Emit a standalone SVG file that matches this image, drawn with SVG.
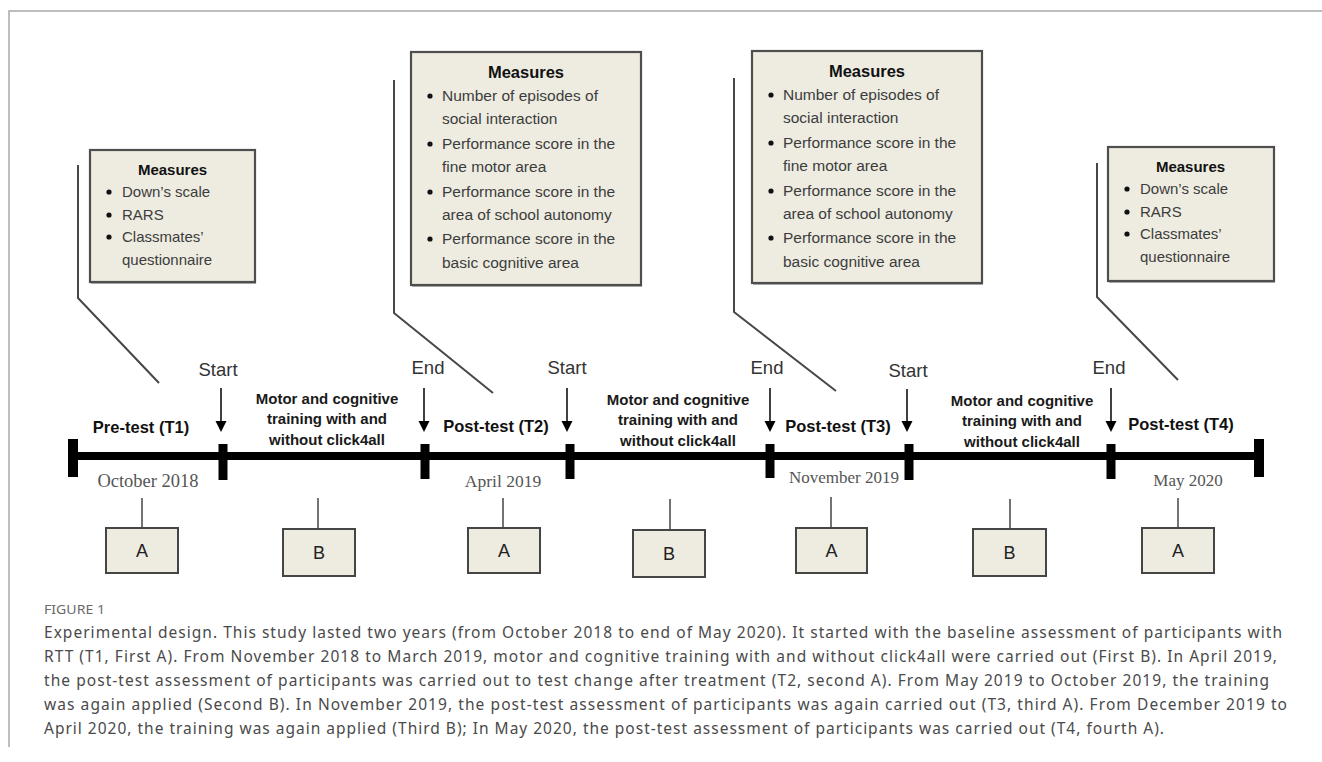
<svg xmlns="http://www.w3.org/2000/svg" width="1322" height="762" viewBox="0 0 1322 762">
<defs>
<marker id="ah" markerWidth="12" markerHeight="12" refX="0" refY="5.5" orient="auto" markerUnits="userSpaceOnUse">
<path d="M0,0 L11,5.5 L0,11 Z" fill="#000"/>
</marker>
</defs>
<style>
.frame{stroke:#a8a8a8;stroke-width:1.5;fill:none}
.mbox{fill:#eeece1;stroke:#4e4e4e;stroke-width:2.2}
.shd{fill:#b0b0b0}
.title{font-family:"Liberation Sans",Arial,sans-serif;font-weight:bold;fill:#111;text-anchor:middle}
.item{font-family:"Liberation Sans",Arial,sans-serif;fill:#3c3c3c}
.bul{fill:#111}
.conn{stroke:#474747;stroke-width:2;fill:none;stroke-linejoin:round}
.bar{stroke:#000;stroke-width:8}
.tick{fill:#000}
.arrow{stroke:#111;stroke-width:1.6}
.lbl{font-family:"Liberation Sans",Arial,sans-serif;font-size:18.5px;fill:#333;text-anchor:middle}
.phase{font-family:"Liberation Sans",Arial,sans-serif;font-weight:bold;font-size:16.5px;fill:#111;text-anchor:middle}
.motor{font-family:"Liberation Sans",Arial,sans-serif;font-weight:bold;font-size:15px;fill:#1a1a1a;text-anchor:middle}
.date{font-family:"Liberation Serif","Times New Roman",serif;fill:#555;text-anchor:middle}
.ab{fill:#eeece1;stroke:#454545;stroke-width:2}
.abt{font-family:"Liberation Sans",Arial,sans-serif;font-size:18px;fill:#222;text-anchor:middle}
.stem{stroke:#444;stroke-width:1.5}
.cap{font-family:"Noto Sans","Open Sans",sans-serif;font-size:15.5px;fill:#4a4a4a}
.fig{font-family:"Noto Sans","Open Sans",sans-serif;font-size:13px;fill:#6a6a6a}
</style>
<rect width="1322" height="762" fill="#fff"/>
<path class="frame" d="M1322,11 H9 V747"/>

<g id="connectors">
<polyline class="conn" points="78,165 78,298 159,383"/>
<polyline class="conn" points="394,80 394,313 493,393"/>
<polyline class="conn" points="734,78 734,312 836,391"/>
<polyline class="conn" points="1097,163 1097,297 1178,380"/>
</g>

<g id="measures-t1">
<rect class="shd" x="91" y="152" width="165" height="132"/>
<rect class="mbox" x="90" y="150" width="165" height="132"/>
<text class="title" x="172.5" y="175" font-size="15">Measures</text>
<g class="item" font-size="15">
<text x="122" y="197">Down’s scale</text>
<text x="122" y="220">RARS</text>
<text x="122" y="242">Classmates’</text>
<text x="122" y="265">questionnaire</text>
</g>
<circle class="bul" cx="109" cy="192" r="2.6"/>
<circle class="bul" cx="109" cy="215" r="2.6"/>
<circle class="bul" cx="109" cy="237" r="2.6"/>
</g>

<g id="measures-t2">
<rect class="shd" x="412" y="54" width="230" height="233"/>
<rect class="mbox" x="411" y="52" width="230" height="233"/>
<text class="title" x="526" y="78" font-size="16.5">Measures</text>
<g class="item" font-size="15.5">
<text x="442" y="101">Number of episodes of</text>
<text x="442" y="124">social interaction</text>
<text x="442" y="149">Performance score in the</text>
<text x="442" y="172">fine motor area</text>
<text x="442" y="197">Performance score in the</text>
<text x="442" y="220">area of school autonomy</text>
<text x="442" y="244">Performance score in the</text>
<text x="442" y="268">basic cognitive area</text>
</g>
<circle class="bul" cx="430" cy="96" r="2.6"/>
<circle class="bul" cx="430" cy="144" r="2.6"/>
<circle class="bul" cx="430" cy="192" r="2.6"/>
<circle class="bul" cx="430" cy="239" r="2.6"/>
</g>

<g id="measures-t3">
<rect class="shd" x="753" y="53" width="230" height="232"/>
<rect class="mbox" x="752" y="51" width="230" height="232"/>
<text class="title" x="867" y="77" font-size="16.5">Measures</text>
<g class="item" font-size="15.5">
<text x="783" y="100">Number of episodes of</text>
<text x="783" y="123">social interaction</text>
<text x="783" y="148">Performance score in the</text>
<text x="783" y="171">fine motor area</text>
<text x="783" y="196">Performance score in the</text>
<text x="783" y="219">area of school autonomy</text>
<text x="783" y="243">Performance score in the</text>
<text x="783" y="267">basic cognitive area</text>
</g>
<circle class="bul" cx="771" cy="95" r="2.6"/>
<circle class="bul" cx="771" cy="143" r="2.6"/>
<circle class="bul" cx="771" cy="191" r="2.6"/>
<circle class="bul" cx="771" cy="238" r="2.6"/>
</g>

<g id="measures-t4">
<rect class="shd" x="1109" y="149" width="166" height="134"/>
<rect class="mbox" x="1108" y="147" width="166" height="134"/>
<text class="title" x="1190.5" y="172" font-size="15">Measures</text>
<g class="item" font-size="15">
<text x="1140" y="194">Down’s scale</text>
<text x="1140" y="217">RARS</text>
<text x="1140" y="239">Classmates’</text>
<text x="1140" y="262">questionnaire</text>
</g>
<circle class="bul" cx="1127" cy="189" r="2.6"/>
<circle class="bul" cx="1127" cy="212" r="2.6"/>
<circle class="bul" cx="1127" cy="234" r="2.6"/>
</g>

<g id="timeline">
<line class="bar" x1="73" y1="456" x2="1259" y2="456"/>
<rect class="tick" x="68" y="439" width="10" height="38"/>
<rect class="tick" x="1254" y="439" width="10" height="38"/>
<rect class="tick" x="218.5" y="444" width="9" height="36"/>
<rect class="tick" x="420.5" y="444" width="9" height="35"/>
<rect class="tick" x="565.5" y="444" width="9" height="35"/>
<rect class="tick" x="765.5" y="444" width="9" height="34"/>
<rect class="tick" x="904.5" y="444" width="9" height="36"/>
<rect class="tick" x="1106.5" y="444" width="9" height="35"/>
</g>

<g id="markers">
<text class="lbl" x="218" y="376">Start</text>
<line class="arrow" x1="221" y1="388" x2="221" y2="421" marker-end="url(#ah)"/>
<text class="lbl" x="428" y="374">End</text>
<line class="arrow" x1="424" y1="388" x2="424" y2="421" marker-end="url(#ah)"/>
<text class="lbl" x="567" y="374">Start</text>
<line class="arrow" x1="567" y1="388" x2="567" y2="421" marker-end="url(#ah)"/>
<text class="lbl" x="767" y="374">End</text>
<line class="arrow" x1="770" y1="388" x2="770" y2="421" marker-end="url(#ah)"/>
<text class="lbl" x="908" y="377">Start</text>
<line class="arrow" x1="907" y1="389" x2="907" y2="421" marker-end="url(#ah)"/>
<text class="lbl" x="1109" y="374">End</text>
<line class="arrow" x1="1111" y1="388" x2="1111" y2="421" marker-end="url(#ah)"/>
</g>

<g id="phases">
<text class="phase" x="141" y="433">Pre-test (T1)</text>
<text class="phase" x="496" y="432">Post-test (T2)</text>
<text class="phase" x="838" y="432">Post-test (T3)</text>
<text class="phase" x="1181" y="430">Post-test (T4)</text>
</g>

<g id="training-1">
<text class="motor" x="327" y="404">Motor and cognitive</text>
<text class="motor" x="327" y="424">training with and</text>
<text class="motor" x="327" y="445">without click4all</text>
</g>
<g id="training-2">
<text class="motor" x="678" y="405">Motor and cognitive</text>
<text class="motor" x="678" y="425">training with and</text>
<text class="motor" x="678" y="446">without click4all</text>
</g>
<g id="training-3">
<text class="motor" x="1022" y="406">Motor and cognitive</text>
<text class="motor" x="1022" y="426">training with and</text>
<text class="motor" x="1022" y="447">without click4all</text>
</g>

<g id="dates">
<text class="date" x="148" y="487" font-size="18.5">October 2018</text>
<text class="date" x="503" y="487" font-size="17.5">April  2019</text>
<text class="date" x="844" y="483" font-size="17">November 2019</text>
<text class="date" x="1188" y="486" font-size="17">May 2020</text>
</g>

<g id="stems">
<line class="stem" x1="142" y1="498" x2="142" y2="528"/>
<line class="stem" x1="318" y1="498" x2="318" y2="529"/>
<line class="stem" x1="503" y1="498" x2="503" y2="528"/>
<line class="stem" x1="670" y1="499" x2="670" y2="530"/>
<line class="stem" x1="831" y1="497" x2="831" y2="528"/>
<line class="stem" x1="1010" y1="499" x2="1010" y2="529"/>
<line class="stem" x1="1178" y1="498" x2="1178" y2="528"/>
</g>

<g id="phase-A1"><rect class="ab" x="106" y="528" width="72" height="45"/><text class="abt" x="142" y="557">A</text></g>
<g id="phase-B1"><rect class="ab" x="283" y="529" width="72" height="47"/><text class="abt" x="319" y="559">B</text></g>
<g id="phase-A2"><rect class="ab" x="468" y="528" width="72" height="45"/><text class="abt" x="504" y="557">A</text></g>
<g id="phase-B2"><rect class="ab" x="633" y="530" width="72" height="47"/><text class="abt" x="669" y="560">B</text></g>
<g id="phase-A3"><rect class="ab" x="796" y="528" width="71" height="45"/><text class="abt" x="831.5" y="557">A</text></g>
<g id="phase-B3"><rect class="ab" x="973" y="529" width="73" height="47"/><text class="abt" x="1009.5" y="559">B</text></g>
<g id="phase-A4"><rect class="ab" x="1142" y="528" width="72" height="45"/><text class="abt" x="1178" y="557">A</text></g>

<g id="caption">
<text class="fig" x="44" y="614" textLength="61" lengthAdjust="spacingAndGlyphs">FIGURE 1</text>
<text class="cap" x="44" y="638" textLength="1238" lengthAdjust="spacing">Experimental design. This study lasted two years (from October 2018 to end of May 2020). It started with the baseline assessment of participants with</text>
<text class="cap" x="44" y="662" textLength="1233" lengthAdjust="spacing">RTT (T1, First A). From November 2018 to March 2019, motor and cognitive training with and without click4all were carried out (First B). In April 2019,</text>
<text class="cap" x="44" y="686" textLength="1225" lengthAdjust="spacing">the post-test assessment of participants was carried out to test change after treatment (T2, second A). From May 2019 to October 2019, the training</text>
<text class="cap" x="44" y="710" textLength="1243" lengthAdjust="spacing">was again applied (Second B). In November 2019, the post-test assessment of participants was again carried out (T3, third A). From December 2019 to</text>
<text class="cap" x="44" y="734" textLength="1120" lengthAdjust="spacing">April 2020, the training was again applied (Third B); In May 2020, the post-test assessment of participants was carried out (T4, fourth A).</text>
</g>
</svg>
